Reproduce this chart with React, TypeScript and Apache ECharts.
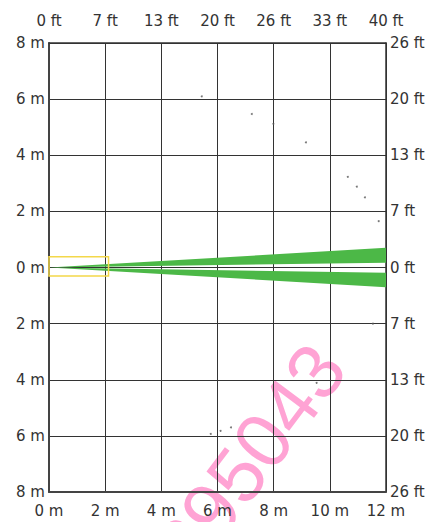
import React, { useEffect, useRef } from "react";
import * as echarts from "echarts";

// Axis tick labels
const topFtLabels = ["0 ft", "7 ft", "13 ft", "20 ft", "26 ft", "33 ft", "40 ft"];
const rightFtLabels = ["26 ft", "20 ft", "13 ft", "7 ft", "0 ft", "7 ft", "13 ft", "20 ft", "26 ft"];
const xMeters = [0, 12];
const yMeters = [-8, 8];

// Detection wedges (x m, y m)
const upperWedge = [[0, 0], [12, 0.7], [12, 0.17]];
const lowerWedge = [[0, 0], [12, -0.19], [12, -0.7]];
const wedges = [upperWedge, lowerWedge];

// Yellow near-field box: [x0, y0, x1, y1]
const nearBox = [0, 0.38, 2.12, -0.3];

// Scattered small dots
const dotsX = [5.44, 7.22, 7.99, 9.15, 10.64, 10.96, 11.25, 11.74, 5.76, 6.11, 6.48, 9.53, 11.53];
const dotsY = [6.1, 5.47, 5.12, 4.46, 3.23, 2.88, 2.5, 1.65, -5.93, -5.82, -5.7, -4.11, -2.0];

const watermark = "295043";

const FONT = "DejaVu Sans";
const TXT = "#333333";

export default function App() {
  const ref = useRef<HTMLDivElement>(null);
  useEffect(() => {
    if (!ref.current) return;
    const chart = echarts.init(ref.current, undefined, { renderer: "svg" });
    const label = { color: TXT, fontSize: 15, fontFamily: FONT };
    chart.setOption({
      animation: false,
      grid: { left: 49, right: 48, top: 43, bottom: 30, containLabel: false },
      xAxis: [
        {
          type: "value", min: xMeters[0], max: xMeters[1], interval: 2, position: "bottom",
          axisLine: { show: true, onZero: false, lineStyle: { color: "#444", width: 2 } },
          axisTick: { show: false },
          splitLine: { show: true, lineStyle: { color: "#333", width: 1 } },
          axisLabel: { ...label, margin: 11, formatter: (v: number) => `${v} m` },
        },
        {
          type: "value", min: xMeters[0], max: xMeters[1], interval: 2, position: "top",
          axisLine: { show: true, onZero: false, lineStyle: { color: "#333", width: 1.5 } },
          axisTick: { show: false },
          splitLine: { show: false },
          axisLabel: { ...label, margin: 15, formatter: (v: number) => topFtLabels[Math.round(v / 2)] },
        },
      ],
      yAxis: [
        {
          type: "value", min: yMeters[0], max: yMeters[1], interval: 2, position: "left",
          axisLine: { show: true, onZero: false, lineStyle: { color: "#444", width: 2 } },
          axisTick: { show: false },
          splitLine: { show: true, lineStyle: { color: "#333", width: 1 } },
          axisLabel: { ...label, margin: 4, formatter: (v: number) => `${Math.abs(v)} m` },
        },
        {
          type: "value", min: yMeters[0], max: yMeters[1], interval: 2, position: "right",
          axisLine: { show: true, onZero: false, lineStyle: { color: "#333", width: 1.5 } },
          axisTick: { show: false },
          splitLine: { show: false },
          axisLabel: { ...label, margin: 4, formatter: (v: number) => rightFtLabels[Math.round((v + 8) / 2)] },
        },
      ],
      series: [
        {
          type: "custom",
          xAxisIndex: 0, yAxisIndex: 0,
          z: 5,
          data: wedges.map((w) => w[1]),
          renderItem: (params: any, api: any) => {
            const pts = wedges[params.dataIndex].map((p) => api.coord(p));
            return { type: "polygon", shape: { points: pts }, style: { fill: "#4cb847" } };
          },
        },
        {
          type: "custom",
          xAxisIndex: 0, yAxisIndex: 0,
          z: 6,
          data: [[nearBox[0], nearBox[1]]],
          renderItem: (params: any, api: any) => {
            const a = api.coord([nearBox[0], nearBox[1]]);
            const b = api.coord([nearBox[2], nearBox[3]]);
            return {
              type: "rect",
              shape: { x: a[0], y: a[1], width: b[0] - a[0], height: b[1] - a[1] },
              style: { fill: "none", stroke: "#f3d84a", lineWidth: 1.5 },
            };
          },
        },
        {
          type: "scatter",
          xAxisIndex: 0, yAxisIndex: 0,
          symbolSize: 2,
          itemStyle: { color: "#555" },
          data: dotsX.map((x, i) => [x, dotsY[i]]),
        },
      ],
      graphic: [
        {
          type: "text",
          x: 250, y: 458,
          rotation: (53 * Math.PI) / 180,
          z: -10,
          silent: true,
          style: {
            text: watermark,
            fontSize: 78,
            fontFamily: "Liberation Sans",
            fill: "#ffa3d4",
            align: "center",
            verticalAlign: "middle",
          },
        },
      ],
    });
    return () => chart.dispose();
  }, []);
  return <div ref={ref} style={{ width: 434, height: 522, position: "absolute", left: 0, top: 0 }} />;
}
